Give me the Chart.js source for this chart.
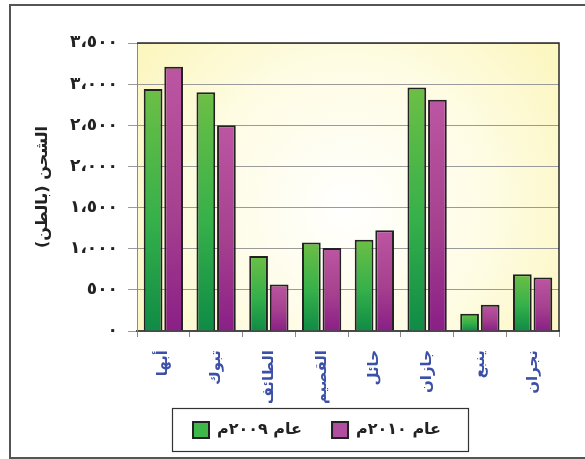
<!DOCTYPE html>
<html><head><meta charset="utf-8">
<script src="https://cdn.jsdelivr.net/npm/chart.js@4"></script>
<style>html,body{margin:0;padding:0;background:#fff}#wrap{width:585px;height:459px}</style>
</head><body><div id="wrap"><canvas id="c" width="585" height="459"></canvas></div>
<script>
// ---- data ----
const categories = ['أبها','تبوك','الطائف','القصيم','حائل','جازان','ينبع','نجران'];
const values2009 = [2940, 2900, 910, 1075, 1110, 2960, 210, 690];
const values2010 = [3210, 2500, 565, 1010, 1225, 2810, 320, 650];
const seriesNames = ['عام ٢٠٠٩م', 'عام ٢٠١٠م'];
const yTickValues = [0, 500, 1000, 1500, 2000, 2500, 3000, 3500];
const yTickLabels = ['٠', '٥٠٠', '١،٠٠٠', '١،٥٠٠', '٢،٠٠٠', '٢،٥٠٠', '٣،٠٠٠', '٣،٥٠٠'];
const yTitle = 'الشحن (بالطن)\u200F';

const FONT = "'DejaVu Sans', sans-serif";
const legendFills = ['#3fb84b', '#b04ea0'];

function barGradient(stops, solid) {
  return (ctx) => {
    if (ctx.type !== 'data' || !ctx.parsed) return solid;
    const chart = ctx.chart, ys = chart.scales.y;
    if (!ys) return solid;
    const top = ys.getPixelForValue(ctx.parsed.y), base = ys.getPixelForValue(0);
    if (!isFinite(top) || !isFinite(base) || top === base) return solid;
    const g = chart.ctx.createLinearGradient(0, top, 0, base);
    stops.forEach(s => g.addColorStop(s[0], s[1]));
    return g;
  };
}

const bgPlugin = {
  id: 'bgPlugin',
  beforeDraw(chart) {
    const {ctx, chartArea: a} = chart;
    ctx.save();
    ctx.fillStyle = '#fff';
    ctx.fillRect(0, 0, chart.width, chart.height);
    const cx = (a.left + a.right) / 2, cy = (a.top + a.bottom) / 2;
    const r = Math.hypot(a.right - a.left, a.bottom - a.top) / 2;
    const g = ctx.createRadialGradient(cx, cy + 20, 10, cx, cy + 20, r);
    g.addColorStop(0, '#fffffd');
    g.addColorStop(0.55, '#fefce3');
    g.addColorStop(1, '#fcf6c0');
    ctx.fillStyle = g;
    ctx.fillRect(a.left, a.top, a.right - a.left, a.bottom - a.top);
    // outer frame
    ctx.strokeStyle = '#555';
    ctx.lineWidth = 2;
    ctx.strokeRect(10, 5, chart.width + 10, 453);
    ctx.restore();
  },
  afterLayout(chart) {
    const lg = chart.legend;
    if (!lg) return;
    const pad = lg.options.labels.padding;
    lg.left = 193 - pad;
    lg.top = 431 - pad - 9;
  },
  afterDraw(chart) {
    const {ctx, chartArea: a} = chart;
    ctx.save();
    ctx.strokeStyle = '#2a2a2a';
    ctx.lineWidth = 1.5;
    ctx.beginPath();
    ctx.moveTo(a.left, a.top);
    ctx.lineTo(a.right, a.top);
    ctx.lineTo(a.right, a.bottom);
    ctx.stroke();
    // legend frame
    const lg = chart.legend;
    if (lg && lg.legendHitBoxes && lg.legendHitBoxes.length) {
      const hb = lg.legendHitBoxes;
      const l = Math.min(...hb.map(h => h.left)) - 21;
      const r = Math.max(...hb.map(h => h.left + h.width)) + 27;
      const cy = hb[0].top + hb[0].height / 2;
      ctx.strokeStyle = '#333';
      ctx.lineWidth = 1.2;
      ctx.strokeRect(Math.round(l) + 0.5, Math.round(cy - 22) + 0.5, Math.round(r - l), 43);
    }
    ctx.restore();
  }
};

new Chart(document.getElementById('c'), {
  type: 'bar',
  data: {
    labels: categories,
    datasets: [
      {
        label: seriesNames[0],
        data: values2009,
        backgroundColor: barGradient([[0, '#6cbf45'], [0.55, '#35b04a'], [1, '#0f8b46']], '#3dba4c'),
        borderColor: '#222',
        borderWidth: 2,
        barPercentage: 0.91,
        categoryPercentage: 0.78
      },
      {
        label: seriesNames[1],
        data: values2010,
        backgroundColor: barGradient([[0, '#bc56a2'], [0.55, '#a6418f'], [1, '#8a1f86']], '#b04ea0'),
        borderColor: '#222',
        borderWidth: 2,
        barPercentage: 0.91,
        categoryPercentage: 0.78
      }
    ]
  },
  options: {
    responsive: false,
    animation: false,
    devicePixelRatio: 1,
    layout: { padding: { top: 43, right: 26, left: 0, bottom: 0 } },
    scales: {
      x: {
        grid: { drawOnChartArea: false, drawTicks: true, tickLength: 6, color: '#888', lineWidth: 1 },
        border: { display: true, color: '#4a4a4a', width: 2 },
        ticks: {
          minRotation: 90, maxRotation: 90, autoSkip: false, padding: 13,
          color: '#3c50a8', font: { family: FONT, size: 15, weight: 'bold' }
        },
        afterFit(scale) {
          const lgH = scale.chart.legend ? scale.chart.legend.height : 0;
          scale.height = 459 - 331 - lgH;
          scale.paddingLeft = 0; scale.paddingRight = 0;
        }
      },
      y: {
        min: 0, max: 3500,
        afterBuildTicks(scale) { scale.ticks = yTickValues.map(v => ({ value: v })); },
        grid: { color: '#9a9a9a', lineWidth: 1, tickLength: 9, drawTicks: true },
        border: { display: true, color: '#8a8a8a', width: 1 },
        ticks: {
          padding: 10, color: '#222',
          font: { family: FONT, size: 17, weight: 'bold' },
          callback: (v) => { const i = yTickValues.indexOf(v); return i >= 0 ? yTickLabels[i] : ''; }
        },
        title: {
          display: true, text: yTitle, color: '#222',
          font: { family: FONT, size: 16, weight: 'bold' },
          padding: { top: 33, bottom: 0 }
        },
        afterFit(scale) {
          scale.width = 137;
          scale.paddingTop = 0; scale.paddingBottom = 0;
        }
      }
    },
    plugins: {
      tooltip: { enabled: false },
      legend: {
        position: 'bottom',
        align: 'start',
        labels: {
          boxWidth: 16, boxHeight: 16, padding: 30, color: '#222',
          font: { family: FONT, size: 16, weight: 'bold' },
          generateLabels(chart) {
            const items = Chart.defaults.plugins.legend.labels.generateLabels(chart);
            items.forEach((it, i) => { it.fillStyle = legendFills[i]; it.strokeStyle = '#222'; it.lineWidth = 2; });
            return items;
          }
        }
      }
    }
  },
  plugins: [bgPlugin]
});
</script>
</body></html>
